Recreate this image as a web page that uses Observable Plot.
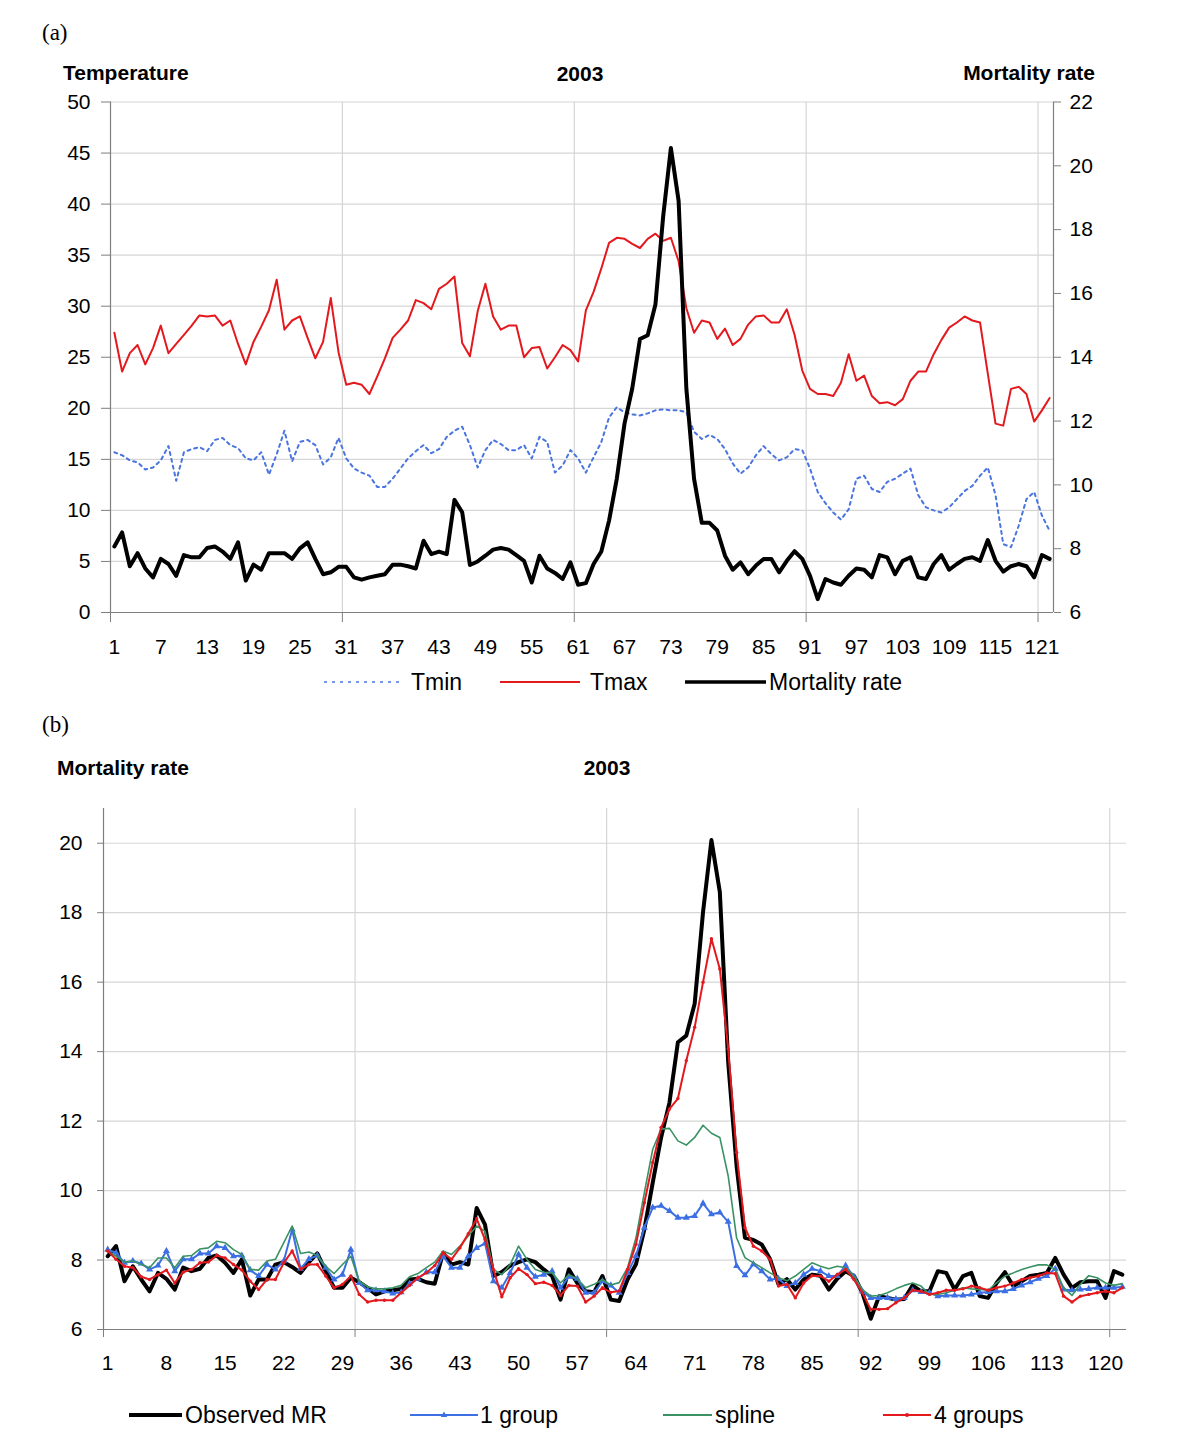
<!DOCTYPE html>
<html>
<head>
<meta charset="utf-8">
<script src="https://cdn.jsdelivr.net/npm/d3@7"></script>
<script src="https://cdn.jsdelivr.net/npm/@observablehq/plot@0.6"></script>
<style>
  html, body { margin: 0; padding: 0; background: white; }
  #page { position: relative; width: 1200px; height: 1455px; background: white; overflow: hidden; }
  #page > .pl { position: absolute; left: 0; }
  #labels { position: absolute; left: 0; top: 0; pointer-events: none; }
</style>
</head>
<body>
<div id="page"></div>
<script>
// ---------------- DATA ----------------
const days = d3.range(1, 123);

// Panel (a)
const tmin = [
15.7,15.4,14.9,14.7,14.0,14.2,14.9,16.3,12.9,15.7,
16.0,16.2,15.8,16.9,17.1,16.4,16.1,15.1,14.9,15.7,
13.5,15.5,17.8,14.8,16.7,16.9,16.4,14.5,15.2,17.1,
15.1,14.1,13.7,13.4,12.3,12.3,13.1,14.1,15.1,15.8,
16.4,15.6,16.0,17.2,17.8,18.2,16.4,14.2,15.9,16.9,
16.5,15.9,15.9,16.4,15.1,17.2,16.7,13.7,14.4,15.9,
15.1,13.7,15.2,16.7,19.1,20.1,19.6,19.4,19.3,19.5,
19.8,19.9,19.8,19.8,19.6,17.7,17.0,17.4,17.0,16.0,
14.6,13.6,14.2,15.4,16.3,15.5,14.9,15.2,16.0,15.9,
14.1,11.8,10.7,9.8,9.1,10.1,13.1,13.4,12.1,11.8,
12.8,13.1,13.6,14.1,11.5,10.3,10.0,9.8,10.3,11.1,
11.9,12.4,13.4,14.2,11.5,6.7,6.4,8.5,11.1,11.8,
9.5,8.0];

const tmax = [
27.4,23.6,25.4,26.2,24.3,25.9,28.1,25.4,26.3,27.2,
28.1,29.1,29.0,29.1,28.1,28.6,26.3,24.3,26.5,28.0,
29.6,32.6,27.7,28.6,29.0,26.9,24.9,26.5,30.8,25.5,
22.3,22.5,22.3,21.4,23.1,24.9,26.9,27.7,28.6,30.6,
30.3,29.7,31.7,32.2,32.9,26.4,25.1,29.5,32.2,29.0,
27.7,28.1,28.1,25.0,25.9,26.0,23.9,25.0,26.2,25.7,
24.6,29.6,31.4,33.7,36.2,36.7,36.6,36.1,35.7,36.6,
37.1,36.4,36.7,34.4,29.8,27.4,28.6,28.4,26.8,27.8,
26.2,26.8,28.2,29.0,29.1,28.4,28.4,29.7,27.2,23.7,
21.9,21.4,21.4,21.2,22.5,25.3,22.7,23.2,21.2,20.5,
20.6,20.3,20.9,22.7,23.6,23.6,25.3,26.7,27.9,28.4,
29.0,28.6,28.4,23.4,18.5,18.3,21.9,22.1,21.4,18.7,
19.8,21.0];

const mortality = [
8.07,8.51,7.45,7.86,7.38,7.10,7.68,7.52,7.15,7.80,
7.73,7.73,8.02,8.07,7.91,7.68,8.20,7.00,7.50,7.34,
7.86,7.86,7.86,7.68,8.01,8.20,7.68,7.20,7.26,7.43,
7.43,7.10,7.03,7.10,7.15,7.20,7.50,7.50,7.45,7.38,
8.25,7.83,7.91,7.83,9.53,9.14,7.49,7.60,7.78,7.97,
8.02,7.97,7.80,7.62,6.94,7.78,7.38,7.24,7.05,7.57,
6.87,6.92,7.52,7.91,8.88,10.19,11.92,13.02,14.57,14.69,
15.65,18.41,20.56,18.90,13.02,10.19,8.81,8.81,8.57,7.78,
7.34,7.57,7.20,7.47,7.68,7.68,7.26,7.62,7.92,7.68,
7.15,6.42,7.05,6.94,6.87,7.15,7.38,7.34,7.10,7.80,
7.73,7.20,7.62,7.73,7.10,7.05,7.52,7.80,7.34,7.52,
7.68,7.73,7.62,8.27,7.62,7.28,7.45,7.52,7.45,7.10,
7.80,7.68];

// Panel (b)
const observedMR = [
8.11,8.40,7.39,7.82,7.44,7.10,7.63,7.46,7.15,7.78,
7.68,7.75,8.06,8.13,7.92,7.63,8.02,6.98,7.44,7.44,
7.87,7.94,7.80,7.63,7.94,8.19,7.68,7.20,7.20,7.49,
7.36,7.20,7.01,7.10,7.13,7.17,7.44,7.46,7.36,7.32,
8.21,7.87,7.94,7.87,9.50,9.02,7.54,7.65,7.84,7.94,
8.02,7.94,7.73,7.54,6.86,7.73,7.34,7.10,7.07,7.54,
6.86,6.82,7.44,7.88,8.88,10.23,11.53,12.54,14.27,14.46,
15.38,18.02,20.09,18.60,13.69,10.71,8.64,8.58,8.45,8.02,
7.30,7.45,7.15,7.44,7.58,7.55,7.15,7.46,7.68,7.54,
7.06,6.31,6.96,6.91,6.86,6.88,7.27,7.10,7.10,7.68,
7.63,7.15,7.54,7.63,6.96,6.91,7.34,7.65,7.25,7.39,
7.54,7.58,7.63,8.06,7.58,7.20,7.36,7.39,7.39,6.91,
7.68,7.58];

const oneGroup = [
8.30,8.21,7.92,7.97,7.90,7.73,7.84,8.26,7.68,8.02,
8.02,8.19,8.19,8.40,8.35,8.11,8.13,7.71,7.54,7.87,
7.73,7.97,8.88,7.75,8.03,8.13,7.78,7.44,7.58,8.30,
7.34,7.13,7.13,7.10,7.04,7.07,7.32,7.46,7.65,7.65,
8.11,7.78,7.78,8.11,8.35,8.48,7.39,7.20,7.63,8.16,
7.78,7.52,7.58,7.68,7.20,7.52,7.46,7.06,7.06,7.39,
7.27,7.06,7.63,8.12,8.93,9.51,9.56,9.41,9.22,9.22,
9.27,9.63,9.32,9.37,9.10,7.83,7.56,7.88,7.68,7.44,
7.46,7.25,7.34,7.58,7.75,7.68,7.54,7.54,7.84,7.52,
7.10,6.91,6.91,6.91,6.88,6.91,7.13,7.08,7.06,6.96,
6.98,6.98,6.98,7.01,7.06,7.08,7.10,7.10,7.17,7.27,
7.36,7.46,7.54,7.75,7.15,7.13,7.15,7.17,7.20,7.20,
7.20,7.23];

const spline = [
8.26,8.11,7.94,7.97,7.87,7.78,8.06,8.06,7.78,8.11,
8.13,8.32,8.35,8.54,8.50,8.30,8.16,7.73,7.71,7.97,
8.02,8.50,8.98,8.19,8.23,8.13,7.82,7.61,7.87,8.11,
7.39,7.23,7.17,7.17,7.20,7.27,7.52,7.61,7.78,7.94,
8.26,8.16,8.40,8.69,8.98,8.83,7.73,7.58,7.87,8.40,
8.02,7.73,7.65,7.63,7.34,7.58,7.46,7.20,7.30,7.44,
7.28,7.35,7.78,8.64,9.94,11.19,11.77,11.79,11.43,11.31,
11.53,11.88,11.65,11.53,10.42,8.64,8.07,7.92,7.78,7.63,
7.49,7.40,7.54,7.73,7.92,7.82,7.75,7.82,7.78,7.54,
7.15,6.96,6.98,7.06,7.17,7.27,7.34,7.25,7.01,7.01,
7.06,7.13,7.20,7.17,7.15,7.13,7.34,7.54,7.63,7.73,
7.80,7.86,7.86,7.73,7.20,6.98,7.30,7.55,7.49,7.34,
7.27,7.32];

const fourGroups = [
8.26,8.02,7.82,7.78,7.52,7.44,7.58,7.71,7.34,7.65,
7.73,7.92,7.94,8.13,8.06,7.87,7.71,7.39,7.15,7.44,
7.44,7.92,8.26,7.73,7.87,7.87,7.54,7.20,7.30,7.54,
7.01,6.79,6.84,6.84,6.84,7.06,7.27,7.49,7.63,7.84,
8.21,8.02,8.35,8.76,9.19,8.59,7.73,6.94,7.49,7.75,
7.58,7.32,7.36,7.27,6.98,7.27,7.25,6.79,6.96,7.20,
7.07,7.11,7.73,8.45,9.65,10.81,11.82,12.35,12.65,13.74,
14.70,16.00,17.25,16.38,14.08,11.10,8.93,8.40,8.26,8.02,
7.25,7.30,6.91,7.34,7.55,7.54,7.39,7.58,7.73,7.44,
7.06,6.58,6.58,6.60,6.77,6.91,7.13,7.10,7.01,7.06,
7.13,7.13,7.17,7.25,7.20,7.13,7.20,7.25,7.34,7.44,
7.49,7.54,7.63,7.61,6.96,6.79,6.96,7.01,7.06,7.10,
7.06,7.20];

// Tick values
const xTicksA = d3.range(1, 122, 6);        // 1,7,...,121
const xTicksB = d3.range(1, 121, 7);        // 1,8,...,120
const gridDays = [30.5, 60.5, 90.5, 120.5];
const tempTicks = d3.range(0, 51, 5);
const mrTicksA = d3.range(6, 23, 2);
const mrTicksB = d3.range(6, 21, 2);

// ---------------- STYLE ----------------
const FONT = "'Liberation Sans', Arial, Helvetica, sans-serif";
const SERIF = "'Liberation Serif', 'Times New Roman', serif";
const RED = "#e3191e";
const BLUE = "#3c6fe3";
const TMIN_BLUE = "#4a74e0";
const GREEN = "#3a9264";
const GRID = "#d6d6d6";
const AXIS = "#7f7f7f";
const FS = 21;

const page = document.getElementById("page");

function place(svg, top) {
  svg.classList.add("pl");
  svg.style.top = top + "px";
  page.appendChild(svg);
}

const tempData = days.map((d, i) => ({day: d, tmin: tmin[i], tmax: tmax[i], mr: mortality[i]}));
const bData = days.map((d, i) => ({day: d, obs: observedMR[i], g1: oneGroup[i], sp: spline[i], g4: fourGroups[i]}));

// ---------- Panel (a): temperature (left axis) ----------
const A_TOP = 90, A_H = 570;
const aCommon = {
  width: 1200, height: A_H,
  marginTop: 11.5, marginBottom: 48, marginLeft: 110, marginRight: 147
};
const plotA = Plot.plot({
  ...aCommon,
  x: {domain: [0.5, 122.5], label: null},
  y: {domain: [0, 50], label: null},
  style: {fontFamily: FONT, fontSize: FS + "px", color: "black", background: "transparent", overflow: "visible"},
  marks: [
    Plot.gridY(tempTicks, {stroke: GRID, strokeOpacity: 1, strokeWidth: 1.2}),
    Plot.gridX(gridDays, {stroke: GRID, strokeOpacity: 1, strokeWidth: 1.2}),
    Plot.axisY(tempTicks, {tickSize: 9, tickPadding: 11, stroke: AXIS, fill: "black", fontSize: FS}),
    Plot.axisX(xTicksA, {tickSize: 0, tickPadding: 27, fill: "black", fontSize: FS}),
    Plot.axisX([0.5, ...gridDays], {tickSize: 10, tickFormat: () => "", stroke: AXIS}),
    Plot.ruleX([0.5, 122.5], {stroke: AXIS, strokeWidth: 1.2}),
    Plot.ruleY([0], {stroke: AXIS, strokeWidth: 1.2}),
    Plot.line(tempData, {x: "day", y: "tmin", stroke: TMIN_BLUE, strokeWidth: 2, strokeDasharray: "3,4"}),
    Plot.line(tempData, {x: "day", y: "tmax", stroke: RED, strokeWidth: 2})
  ]
});
place(plotA, A_TOP);

// ---------- Panel (a): mortality rate (right axis) ----------
const plotA2 = Plot.plot({
  ...aCommon,
  x: {domain: [0.5, 122.5], label: null, axis: null},
  y: {domain: [6, 22], label: null},
  style: {fontFamily: FONT, fontSize: FS + "px", color: "black", background: "transparent", overflow: "visible"},
  marks: [
    Plot.axisY(mrTicksA, {anchor: "right", tickSize: 7, tickPadding: 9, stroke: AXIS, fill: "black", fontSize: FS}),
    Plot.line(tempData, {x: "day", y: "mr", stroke: "black", strokeWidth: 4, strokeLinejoin: "round"})
  ]
});
place(plotA2, A_TOP);

// ---------- Panel (b) ----------
const B_TOP = 800, B_H = 590;
const plotB = Plot.plot({
  width: 1200, height: B_H,
  marginTop: 8, marginBottom: 61, marginLeft: 103, marginRight: 74,
  x: {domain: [0.5, 122.5], label: null},
  y: {domain: [6, 21], label: null},
  style: {fontFamily: FONT, fontSize: FS + "px", color: "black", background: "transparent", overflow: "visible"},
  marks: [
    Plot.gridY(mrTicksB.filter(v => v > 6), {stroke: GRID, strokeOpacity: 1, strokeWidth: 1.2}),
    Plot.gridX(gridDays, {stroke: GRID, strokeOpacity: 1, strokeWidth: 1.2}),
    Plot.axisY(mrTicksB, {tickSize: 6, tickPadding: 15, stroke: AXIS, fill: "black", fontSize: FS}),
    Plot.axisX(xTicksB, {tickSize: 0, tickPadding: 26, fill: "black", fontSize: FS}),
    Plot.axisX([0.5, ...gridDays], {tickSize: 8, tickFormat: () => "", stroke: AXIS}),
    Plot.ruleX([0.5], {stroke: AXIS, strokeWidth: 1.2}),
    Plot.ruleY([6], {stroke: AXIS, strokeWidth: 1.2}),
    Plot.line(bData, {x: "day", y: "obs", stroke: "black", strokeWidth: 4, strokeLinejoin: "round"}),
    Plot.line(bData, {x: "day", y: "g1", stroke: BLUE, strokeWidth: 2}),
    Plot.dot(bData, {x: "day", y: "g1", symbol: "triangle", r: 2.6, fill: BLUE}),
    Plot.line(bData, {x: "day", y: "sp", stroke: GREEN, strokeWidth: 1.6}),
    Plot.line(bData, {x: "day", y: "g4", stroke: RED, strokeWidth: 2}),
    Plot.dot(bData, {x: "day", y: "g4", r: 1.7, fill: RED})
  ]
});
place(plotB, B_TOP);

// ---------- Titles and legends ----------
const NS = "http://www.w3.org/2000/svg";
const lab = document.createElementNS(NS, "svg");
lab.setAttribute("id", "labels");
lab.setAttribute("width", 1200);
lab.setAttribute("height", 1455);
page.appendChild(lab);

function text(x, y, s, opts = {}) {
  const t = document.createElementNS(NS, "text");
  t.setAttribute("x", x);
  t.setAttribute("y", y);
  t.setAttribute("font-family", opts.family || FONT);
  t.setAttribute("font-size", opts.size || 22);
  if (opts.bold) t.setAttribute("font-weight", "bold");
  if (opts.anchor) t.setAttribute("text-anchor", opts.anchor);
  t.setAttribute("fill", "black");
  t.textContent = s;
  lab.appendChild(t);
}
function line(x1, x2, y, stroke, w, dash) {
  const l = document.createElementNS(NS, "line");
  l.setAttribute("x1", x1); l.setAttribute("x2", x2);
  l.setAttribute("y1", y); l.setAttribute("y2", y);
  l.setAttribute("stroke", stroke); l.setAttribute("stroke-width", w);
  if (dash) l.setAttribute("stroke-dasharray", dash);
  lab.appendChild(l);
}
function marker(x, y, kind, fill) {
  if (kind === "tri") {
    const p = document.createElementNS(NS, "path");
    p.setAttribute("d", `M${x},${y - 3.5}L${x + 3.2},${y + 2}L${x - 3.2},${y + 2}Z`);
    p.setAttribute("fill", fill);
    lab.appendChild(p);
  } else {
    const c = document.createElementNS(NS, "circle");
    c.setAttribute("cx", x); c.setAttribute("cy", y); c.setAttribute("r", 2);
    c.setAttribute("fill", fill);
    lab.appendChild(c);
  }
}

// Panel (a) header
text(42, 40, "(a)", {family: SERIF, size: 23});
text(63, 80, "Temperature", {bold: true, size: 21});
text(580, 81, "2003", {bold: true, size: 21, anchor: "middle"});
text(1095, 80, "Mortality rate", {bold: true, size: 21, anchor: "end"});

// Panel (a) legend
const LA = 682;
line(324, 399, LA, TMIN_BLUE, 1.5, "3,5");
text(411, LA + 8, "Tmin", {size: 23});
line(500, 580, LA, RED, 2);
text(590, LA + 8, "Tmax", {size: 23});
line(685, 766, LA, "black", 3.5);
text(769, LA + 8, "Mortality rate", {size: 23});

// Panel (b) header
text(42, 732, "(b)", {family: SERIF, size: 23});
text(57, 775, "Mortality rate", {bold: true, size: 21});
text(607, 775, "2003", {bold: true, size: 21, anchor: "middle"});

// Panel (b) legend
const LB = 1415;
line(129, 182, LB, "black", 4);
text(185, LB + 8, "Observed MR", {size: 23});
line(410, 478, LB, BLUE, 2);
marker(444, LB, "tri", BLUE);
text(480, LB + 8, "1 group", {size: 23});
line(663, 712, LB, GREEN, 1.8);
text(715, LB + 8, "spline", {size: 23});
line(883, 931, LB, RED, 2);
marker(907, LB, "dot", RED);
text(934, LB + 8, "4 groups", {size: 23});
</script>
</body>
</html>
